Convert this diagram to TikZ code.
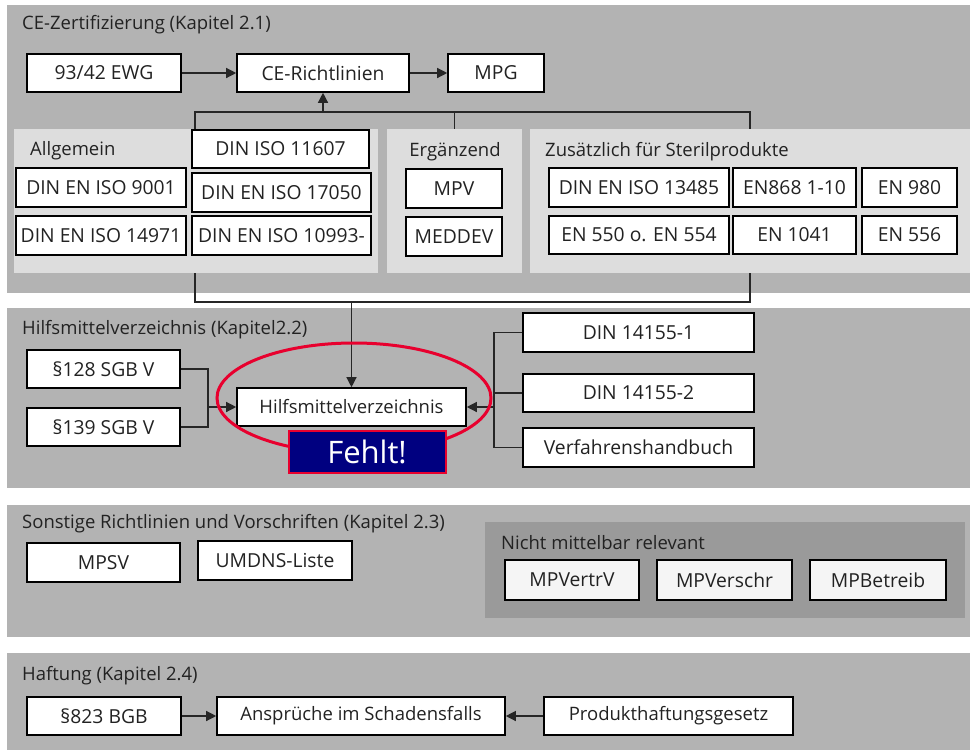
\documentclass[tikz,border=0pt]{standalone}
\usepackage{fontspec}
\setmainfont{Open Sans}
\usetikzlibrary{arrows.meta,shapes.geometric}
\definecolor{bandgray}{HTML}{B3B3B3}
\definecolor{lightpanel}{HTML}{DDDDDD}
\definecolor{darkpanel}{HTML}{9A9A9A}
\definecolor{txt}{HTML}{222222}
\definecolor{ovalred}{HTML}{E8002E}
\definecolor{navybox}{HTML}{000080}
\newcommand\myfs{\fontsize{18.5pt}{22pt}\selectfont}
\newcommand\boxfs{\fontsize{19.3pt}{23pt}\selectfont}
\newcommand\bigfs{\fontsize{31pt}{36pt}\selectfont}
\tikzset{
  box/.style={draw=black, line width=1.6pt, fill=white, inner sep=0pt, font=\boxfs, text=txt},
  softbox/.style={box, fill=white!96!black},
  panel/.style={draw=none, inner sep=0pt},
  lbl/.style={anchor=west, inner sep=0pt, font=\myfs, text=txt},
  conn/.style={draw=black!85, line width=1.3pt},
  arr/.style={conn, -{Triangle[length=10pt,width=10pt]}},
}
% box: name, x1, y1, x2, y2, text
\newcommand\bx[6]{\node[box, minimum width={#4-#2}, minimum height={#5-#3}] (#1) at ({(#2+#4)/2},{(#3+#5)/2}) {#6};}
\newcommand\sbx[6]{\node[softbox, minimum width={#4-#2}, minimum height={#5-#3}] (#1) at ({(#2+#4)/2},{(#3+#5)/2}) {#6};}
% panel: name, x1, y1, x2, y2, colour
\newcommand\pnl[6]{\node[panel, fill=#6, minimum width={#4-#2}, minimum height={#5-#3}] (#1) at ({(#2+#4)/2},{(#3+#5)/2}) {};}
\begin{document}
\begin{tikzpicture}[x=1pt,y=-1pt]
\useasboundingbox (0,0) rectangle (970,750);
\fill[white] (0,0) rectangle (970,750);

% ---------- Band 1 ----------
\pnl{band1}{7}{5}{970}{293}{bandgray}
\node[lbl] (t1) at (22,25) {CE-Zertifizierung (Kapitel 2.1)};
\bx{ewg}{27}{54}{181}{92}{93/42 EWG}
\bx{ce}{237}{54}{409}{92}{CE-Richtlinien}
\bx{mpg}{448}{54}{544}{92}{MPG}
\draw[arr] (ewg) -- (ce);
\draw[arr] (ce) -- (mpg);

\pnl{allg}{14}{129}{378}{273}{lightpanel}
\pnl{erg}{387}{129}{522}{273}{lightpanel}
\pnl{zus}{530}{129}{970}{273}{lightpanel}
\node[lbl] (allgl) at (30,151) {Allgemein};
\node[font=\myfs, text=txt, inner sep=0pt] (ergl) at (455,152) {Ergänzend};
\node[lbl] (zusl) at (545,152) {Zusätzlich für Sterilprodukte};

\bx{i11607}{192}{130}{369}{168}{DIN ISO 11607}
\bx{i9001}{16}{168}{186}{207}{DIN EN ISO 9001}
\bx{i17050}{192}{173}{371}{212}{DIN EN ISO 17050}
\bx{i14971}{16}{216}{186}{255}{DIN EN ISO 14971}
\bx{i10993}{192}{216}{371}{255}{DIN EN ISO 10993-}
\bx{mpv}{406}{169}{502}{208}{MPV}
\bx{meddev}{406}{217}{502}{256}{MEDDEV}
\bx{i13485}{549}{168}{729}{207}{DIN EN ISO 13485}
\bx{en868}{733}{168}{856}{207}{EN868 1-10}
\bx{en980}{862}{168}{957}{207}{EN 980}
\bx{en550}{549}{216}{729}{254}{EN 550 o. EN 554}
\bx{en1041}{733}{216}{856}{254}{EN 1041}
\bx{en556}{862}{216}{957}{254}{EN 556}

\coordinate (tl) at (195,112);
\coordinate (tr) at (750,112);
\draw[conn] (i11607.north -| tl) -- (tl) -- (tr) -- (zus.north);
\draw[conn] (erg.north) -- (erg.north |- tl);
\draw[arr] (ce.south |- tl) -- (ce.south);

% ---------- connector to band 2 ----------
\coordinate (bl) at (195,302);
\coordinate (br) at (750,302);
\draw[conn] (allg.south -| bl) -- (bl) -- (br) -- (zus.south);

% ---------- Band 2 ----------
\pnl{band2}{7}{308}{970}{488}{bandgray}
\node[lbl] (t2) at (22,330) {Hilfsmittelverzeichnis (Kapitel2.2)};
\bx{s128}{27}{350}{180}{388}{§128 SGB V}
\bx{s139}{27}{408}{180}{446}{§139 SGB V}
\node[box, font=\myfs, minimum width=229, minimum height=38] (hilf) at (351.5,407) {Hilfsmittelverzeichnis};
\bx{d1}{523}{313}{754}{352}{DIN 14155-1}
\bx{d2}{523}{374}{754}{412}{DIN 14155-2}
\bx{vh}{523}{428}{754}{467}{Verfahrenshandbuch}

\draw[arr] (bl -| hilf.north) -- (hilf.north);
\coordinate (jl) at (208,407);
\coordinate (jr) at (494,407);
\draw[conn] (s128.east) -| (jl) |- (s139.east);
\draw[arr] (jl) -- (hilf.west);
\draw[conn] (d1.west) -| (vh.west -| jr) -- (vh.west);
\draw[conn] (d2.west) -- (d2.west -| jr);
\draw[arr] (jr) -- (hilf.east);

\node[ellipse, draw=ovalred, line width=3pt, minimum width=274, minimum height=110, inner sep=0pt] (oval) at (354,398) {};
\node[draw=ovalred, line width=2pt, fill=navybox, text=white, font=\bigfs, inner sep=0pt, minimum width=157, minimum height=42] (fehlt) at (367,451.5) {Fehlt!};

% ---------- Band 3 ----------
\pnl{band3}{7}{505}{970}{637}{bandgray}
\node[lbl] (t3) at (22,524) {Sonstige Richtlinien und Vorschriften (Kapitel 2.3)};
\bx{mpsv}{27}{543}{180}{582}{MPSV}
\bx{umdns}{198}{541}{352}{580}{UMDNS-Liste}
\pnl{nicht}{485}{522}{965}{618}{darkpanel}
\node[lbl] (nichtl) at (501,543) {Nicht mittelbar relevant};
\sbx{mpvertrv}{505}{560}{639}{600}{MPVertrV}
\sbx{mpverschr}{657}{560}{792}{600}{MPVerschr}
\sbx{mpbetreib}{810}{560}{946}{600}{MPBetreib}

% ---------- Band 4 ----------
\pnl{band4}{7}{653}{970}{750}{bandgray}
\node[lbl] (t4) at (22,676) {Haftung (Kapitel 2.4)};
\bx{bgb}{27}{697}{181}{735}{§823 BGB}
\node[box, font=\myfs, minimum width=288, minimum height=38] (ans) at (361,716) {Ansprüche im Schadensfalls};
\node[box, font=\myfs, minimum width=249, minimum height=38] (prod) at (668.5,716) {Produkthaftungsgesetz};
\draw[arr] (bgb) -- (ans);
\draw[arr] (prod) -- (ans);
\end{tikzpicture}
\end{document}
